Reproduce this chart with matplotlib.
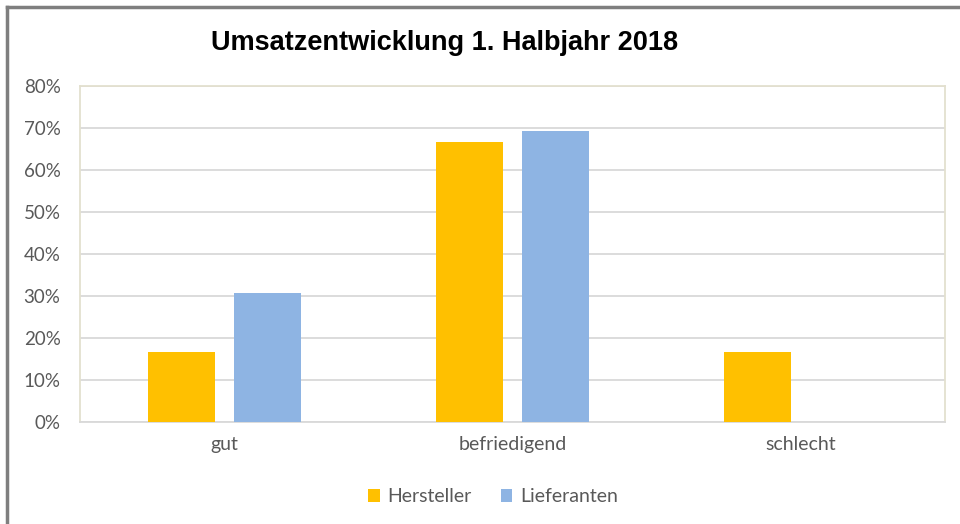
import matplotlib.pyplot as plt
import numpy as np
from matplotlib.lines import Line2D
from matplotlib.ticker import FuncFormatter

categories = ["gut", "befriedigend", "schlecht"]
hersteller = [16.7, 66.7, 16.7]
lieferanten = [30.8, 69.2, 0.0]
series_names = ["Hersteller", "Lieferanten"]
title = "Umsatzentwicklung 1. Halbjahr 2018"

col_h = "#FFC000"
col_l = "#8EB4E3"
txt = "#595959"

fig = plt.figure(figsize=(9.6, 5.24), dpi=100)
ax = fig.add_axes([80/960, 1-422/524, 865/960, 336/524])

x = np.arange(len(categories))
w = 0.233
ax.bar(x-0.149, hersteller, w, color=col_h, label=series_names[0], zorder=3)
ax.bar(x+0.149, lieferanten, w, color=col_l, label=series_names[1], zorder=3)

ax.set_xlim(-0.5, 2.5)
ax.set_ylim(0, 80)
ax.set_yticks(np.arange(0, 81, 10))
ax.yaxis.set_major_formatter(FuncFormatter(lambda v, p: "%d%%" % v))
ax.set_xticks(x)
ax.set_xticklabels(categories)
ax.tick_params(length=0, colors=txt)
ax.tick_params(axis="x", labelsize=14, pad=10)
ax.tick_params(axis="y", labelsize=13.5, pad=14)
for lab in ax.get_xticklabels() + ax.get_yticklabels():
    lab.set_family("Lato")
ax.yaxis.grid(True, color="#D9D9D9", linewidth=1.3, zorder=0)
for s in ["left", "right", "top"]:
    ax.spines[s].set_color("#E3E0CF")
    ax.spines[s].set_linewidth(1.3)
ax.spines["bottom"].set_color("#D9D9D9")
ax.spines["bottom"].set_linewidth(1.3)

fig.text(445/960, 1-43/524, title, ha="center", va="center",
         fontsize=19.5, fontweight="bold", family="Liberation Sans")

leg = fig.legend(loc="center", bbox_to_anchor=(493/960, 1-497/524), ncol=2,
                 frameon=False, prop={"family": "Lato", "size": 14},
                 handlelength=0.6, handleheight=0.6, handletextpad=0.4,
                 columnspacing=1.5)
for t in leg.get_texts():
    t.set_color(txt)

# outer frame (top and left only)
fig.add_artist(Line2D([7/960, 1], [1-7/524, 1-7/524], color="#7F7F7F", linewidth=2.5))
fig.add_artist(Line2D([7/960, 7/960], [0, 1-7/524], color="#7F7F7F", linewidth=2.5))

fig.savefig("out.png", dpi=100, facecolor="white")
